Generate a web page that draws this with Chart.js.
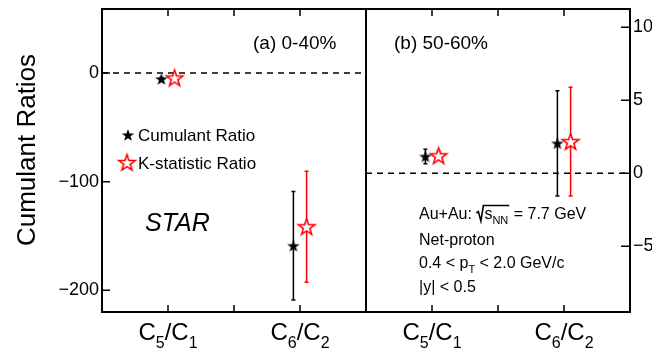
<!DOCTYPE html>
<html>
<head>
<meta charset="utf-8">
<script src="https://cdn.jsdelivr.net/npm/chart.js@4"></script>
<style>
  html, body { margin: 0; padding: 0; background: #fff; }
  canvas { display: block; }
</style>
</head>
<body>
<canvas id="ratios" width="652" height="351"></canvas>
<script>
// categories shown in both panels
const categories = ['C5/C1', 'C6/C2'];

// (a) 0-40% centrality, left axis
const cumLeft = [-5.5, -159];
const cumLeftErr = [1.5, 50];
const kstatLeft = [-4.5, -141.5];
const kstatLeftErr = [1.5, 51];

// (b) 50-60% centrality, right axis
const cumRight = [1.15, 2.05];
const cumRightErr = [0.5, 3.6];
const kstatRight = [1.2, 2.17];
const kstatRightErr = [0.3, 3.72];

const leftTicks = [-200, -100, 0];
const rightTicks = [-5, 0, 5, 10];

const FONT = '"Liberation Sans", Arial, Helvetica, sans-serif';
const pairShift = 0.1;

function starImage(r, fill, stroke, lw) {
  const c = document.createElement('canvas');
  const s = Math.ceil(2 * r + 2 * lw + 2);
  c.width = s; c.height = s;
  const g = c.getContext('2d');
  g.beginPath();
  for (let k = 0; k < 10; k++) {
    const rad = k % 2 === 0 ? r : r * 0.4;
    const a = -Math.PI / 2 + k * Math.PI / 5;
    const px = s / 2 + rad * Math.cos(a), py = s / 2 + rad * Math.sin(a) + r * 0.08;
    if (k === 0) g.moveTo(px, py); else g.lineTo(px, py);
  }
  g.closePath();
  g.fillStyle = fill;
  g.fill();
  if (stroke) { g.strokeStyle = stroke; g.lineWidth = lw; g.stroke(); }
  return c;
}

const blackStar = starImage(6.6, '#000', null, 0);
const redStar = starImage(8.6, '#fff', '#ff0000', 1.6);

const minus = v => String(v).replace('-', '\u2212');

function points(base, vals, shift) {
  return vals.map((v, i) => ({ x: base + 2 * i + shift, y: v }));
}

function starSet(label, base, vals, errs, shift, axis, img, color) {
  return {
    label: label,
    data: points(base, vals, shift),
    yAxisID: axis,
    pointStyle: img,
    errors: errs,
    errColor: color,
    showLine: false,
    order: 1
  };
}

function zeroLine(from, to, axis) {
  return {
    type: 'line',
    data: [{ x: from, y: 0 }, { x: to, y: 0 }],
    yAxisID: axis,
    borderColor: '#000',
    borderWidth: 1.5,
    borderDash: [6, 5],
    pointRadius: 0,
    order: 2
  };
}

const errorBars = {
  id: 'errorBars',
  beforeDatasetsDraw(chart) {
    const ctx = chart.ctx;
    chart.data.datasets.forEach((ds, di) => {
      if (!ds.errors) return;
      const meta = chart.getDatasetMeta(di);
      const sc = chart.scales[ds.yAxisID];
      ctx.save();
      ctx.strokeStyle = ds.errColor;
      ctx.lineWidth = 1.5;
      meta.data.forEach((pt, i) => {
        const v = ds.data[i].y, e = ds.errors[i];
        const top = sc.getPixelForValue(v + e), bot = sc.getPixelForValue(v - e);
        ctx.beginPath();
        ctx.moveTo(pt.x, top); ctx.lineTo(pt.x, bot);
        ctx.moveTo(pt.x - 2, top); ctx.lineTo(pt.x + 2, top);
        ctx.moveTo(pt.x - 2, bot); ctx.lineTo(pt.x + 2, bot);
        ctx.stroke();
      });
      ctx.restore();
    });
  }
};

function drawLabel(ctx, text, cx, base, big, small, drop) {
  const parts = text.split('').map(ch => ({ ch, sub: /[0-9]/.test(ch) }));
  let w = 0;
  parts.forEach(p => { ctx.font = (p.sub ? small : big) + 'px ' + FONT; p.w = ctx.measureText(p.ch).width; w += p.w; });
  let x = cx - w / 2;
  parts.forEach(p => {
    ctx.font = (p.sub ? small : big) + 'px ' + FONT;
    ctx.fillText(p.ch, x, base + (p.sub ? drop : 0));
    x += p.w;
  });
}

// draws a run of [text, isSub] pieces from x, returns the end x
function runText(ctx, pieces, x, base, size, subSize) {
  pieces.forEach(([t, sub]) => {
    ctx.font = (sub ? subSize : size) + 'px ' + FONT;
    ctx.fillText(t, x, base + (sub ? 5 : 0));
    x += ctx.measureText(t).width;
  });
  return x;
}

const decor = {
  id: 'decor',
  afterDraw(chart) {
    const ctx = chart.ctx;
    const a = chart.chartArea;
    const xs = chart.scales.x, ys = chart.scales.y, ys2 = chart.scales.y2;
    ctx.save();
    ctx.fillStyle = '#000';
    ctx.strokeStyle = '#000';

    // frame and panel divider
    ctx.lineWidth = 2;
    ctx.strokeRect(a.left, a.top, a.right - a.left, a.bottom - a.top);
    const mid = xs.getPixelForValue(4);
    ctx.beginPath();
    ctx.moveTo(mid, a.top); ctx.lineTo(mid, a.bottom);
    ctx.stroke();

    // tick marks, drawn inward
    ctx.lineWidth = 1.5;
    ctx.beginPath();
    [0, 4].forEach(base => {
      [1, 2, 3].forEach(k => {
        const px = xs.getPixelForValue(base + k);
        ctx.moveTo(px, a.top); ctx.lineTo(px, a.top + 7);
        ctx.moveTo(px, a.bottom); ctx.lineTo(px, a.bottom - 7);
      });
    });
    leftTicks.forEach(v => {
      const py = ys.getPixelForValue(v);
      ctx.moveTo(a.left, py); ctx.lineTo(a.left + 8, py);
    });
    rightTicks.forEach(v => {
      const py = ys2.getPixelForValue(v);
      ctx.moveTo(a.right, py); ctx.lineTo(a.right - 9, py);
    });
    ctx.stroke();

    // category labels under both panels
    categories.forEach((c, i) => {
      drawLabel(ctx, c, xs.getPixelForValue(1 + 2 * i), 340, 24, 16, 8);
      drawLabel(ctx, c, xs.getPixelForValue(5 + 2 * i), 340, 24, 16, 8);
    });

    // y title
    ctx.save();
    ctx.translate(35, 150);
    ctx.rotate(-Math.PI / 2);
    ctx.textAlign = 'center';
    ctx.font = '26px ' + FONT;
    ctx.fillText('Cumulant Ratios', 0, 0);
    ctx.restore();

    // panel tags
    ctx.font = '19px ' + FONT;
    ctx.fillText('(a) 0-40%', 253, 49);
    ctx.fillText('(b) 50-60%', 394, 49);

    // legend
    ctx.drawImage(blackStar, 128 - blackStar.width / 2, 135 - blackStar.height / 2);
    ctx.drawImage(redStar, 127 - redStar.width / 2, 162.5 - redStar.height / 2);
    ctx.font = '17px ' + FONT;
    ctx.fillText('Cumulant Ratio', 138, 141);
    ctx.fillText('K-statistic Ratio', 138, 168.5);

    ctx.font = 'italic 25px ' + FONT;
    ctx.fillText('STAR', 145, 231);

    // collision info
    const tx = 419;
    let x = runText(ctx, [['Au+Au: ', false]], tx, 219, 16, 11);
    // radical sign
    ctx.lineWidth = 1.6;
    ctx.beginPath();
    ctx.moveTo(x, 213); ctx.lineTo(x + 2, 211.5); ctx.lineTo(x + 4.5, 221);
    ctx.lineTo(x + 7, 205.5);
    const sx = x + 8;
    ctx.font = '16px ' + FONT;
    const sw = ctx.measureText('s').width;
    ctx.font = '11px ' + FONT;
    const nw = ctx.measureText('NN').width;
    ctx.lineTo(sx + sw + nw + 1, 205.5);
    ctx.stroke();
    x = runText(ctx, [['s', false], ['NN', true]], sx, 219, 16, 11);
    runText(ctx, [[' = 7.7 GeV', false]], x + 1, 219, 16, 11);

    runText(ctx, [['Net-proton', false]], tx, 245, 16, 11);
    runText(ctx, [['0.4 < p', false], ['T', true], [' < 2.0 GeV/c', false]], tx, 268, 16, 11);
    runText(ctx, [['|y| < 0.5', false]], tx, 292, 16, 11);

    ctx.restore();
  }
};

// keep the frame where the reference has it: no extra room for end labels
const noEdgePad = s => { s.paddingTop = 0; s.paddingBottom = 0; };

new Chart(document.getElementById('ratios'), {
  type: 'scatter',
  data: {
    datasets: [
      starSet('Cumulant Ratio', 1, cumLeft, cumLeftErr, -pairShift, 'y', blackStar, '#000'),
      starSet('K-statistic Ratio', 1, kstatLeft, kstatLeftErr, pairShift, 'y', redStar, '#ff0000'),
      starSet('Cumulant Ratio', 5, cumRight, cumRightErr, -pairShift, 'y2', blackStar, '#000'),
      starSet('K-statistic Ratio', 5, kstatRight, kstatRightErr, pairShift, 'y2', redStar, '#ff0000'),
      zeroLine(0, 4, 'y'),
      zeroLine(4, 8, 'y2')
    ]
  },
  options: {
    responsive: false,
    animation: false,
    events: [],
    layout: { padding: { top: 9, bottom: 39, left: 0, right: 0 } },
    plugins: {
      legend: { display: false },
      tooltip: { enabled: false }
    },
    scales: {
      x: { type: 'linear', min: 0, max: 8, display: false },
      y: {
        position: 'left',
        min: -220,
        max: 59,
        grid: { display: false, drawTicks: false },
        border: { display: false },
        ticks: {
          font: { family: FONT, size: 18 },
          color: '#000',
          padding: 3,
          callback: minus
        },
        afterBuildTicks: s => { s.ticks = leftTicks.map(v => ({ value: v })); },
        afterFit: s => { s.width = 102; noEdgePad(s); }
      },
      y2: {
        position: 'right',
        min: -9.5,
        max: 11.25,
        grid: { display: false, drawTicks: false },
        border: { display: false },
        ticks: {
          font: { family: FONT, size: 18 },
          color: '#000',
          padding: 3,
          callback: minus
        },
        afterBuildTicks: s => { s.ticks = rightTicks.map(v => ({ value: v })); },
        afterFit: s => { s.width = 22; noEdgePad(s); }
      }
    }
  },
  plugins: [errorBars, decor]
});
</script>
</body>
</html>
